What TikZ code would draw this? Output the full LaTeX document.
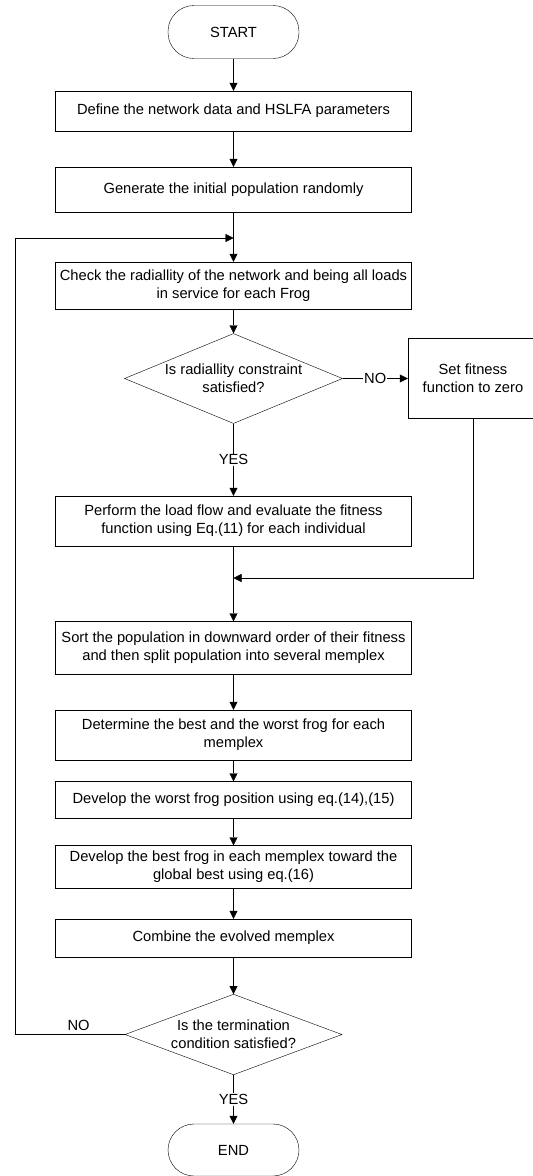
\documentclass[tikz,border=0pt]{standalone}
\usepackage{fontspec}
\setmainfont{Liberation Sans}
\usetikzlibrary{shapes.geometric}
\usetikzlibrary{arrows.meta}

\begin{document}
\begin{tikzpicture}[x=1pt, y=-1pt,
        every node/.style={font=\fontsize{14.7}{17.7}\selectfont},
        proc/.style={rectangle, draw, minimum width=356pt, align=center, inner sep=2pt},
        term/.style={rectangle, draw, rounded corners=26pt, minimum width=131pt, minimum height=53pt},
        decide/.style={diamond, draw, aspect=2.4, inner sep=0pt, align=center},
        flow/.style={draw, -{Triangle[length=8pt, width=8pt]}},
        tag/.style={fill=white, inner sep=1pt}]
            \useasboundingbox (0,0) rectangle (533,1176);

            \node (start) at (233.5,32) [term] {START};
            \node (define) at (233.5,111) [proc, minimum height=40pt] {Define the network data and HSLFA parameters};
            \node (init) at (233.5,189.5) [proc, minimum height=45pt] {Generate the initial population randomly};
            \node (radial) at (233.5,285.5) [proc, minimum height=47pt] {Check the radiallity of the network and being all loads\\in service for each Frog};
            \node (isradial) at (233.5,378.5) [decide, minimum width=218pt, minimum height=90pt] {Is radiallity constraint\\satisfied?};
            \node (zero) at (473,378.5) [rectangle, draw, minimum width=130pt, minimum height=80pt, align=center] {Set fitness\\function to zero};
            \node (flow) at (233.5,521) [proc, minimum height=50pt] {Perform the load flow and evaluate the fitness\\function using Eq.(11) for each individual};
            \node (sort) at (233.5,648) [proc, minimum height=53pt] {Sort the population in downward order of their fitness\\and then split population into several memplex};
            \node (best) at (233.5,735) [proc, minimum height=50pt] {Determine the best and the worst frog for each\\memplex};
            \node (worst) at (233.5,800) [proc, minimum height=37pt] {Develop the worst frog position using eq.(14),(15)};
            \node (toward) at (233.5,867) [proc, minimum height=43pt] {Develop the best frog in each memplex toward the\\global best using eq.(16)};
            \node (combine) at (233.5,938) [proc, minimum height=38pt] {Combine the evolved memplex};
            \node (isdone) at (233.5,1034.5) [decide, minimum width=217pt, minimum height=79pt] {Is the termination\\condition satisfied?};
            \node (end) at (233.5,1150) [term, minimum height=52pt] {END};

            \coordinate (back) at (233.5,238);
            \coordinate (merge) at (233.5,578);

            \draw[flow] (start) -- (define);
            \draw[flow] (define) -- (init);
            \draw[flow] (init) -- (radial);
            \draw[flow] (radial) -- (isradial);
            \draw[flow] (isradial) -- node[tag] {NO} (zero);
            \draw[flow] (isradial) -- node[tag] {YES} (flow);
            \draw[flow] (zero) |- (merge);
            \draw[flow] (flow) -- (sort);
            \draw[flow] (sort) -- (best);
            \draw[flow] (best) -- (worst);
            \draw[flow] (worst) -- (toward);
            \draw[flow] (toward) -- (combine);
            \draw[flow] (combine) -- (isdone);
            \draw[flow] (isdone) -- node[tag] {YES} (end);
            \draw[flow] (isdone.west) -- node[pos=0.42, above] {NO} ++(-110,0) |- (back);
        \end{tikzpicture}
\end{document}
